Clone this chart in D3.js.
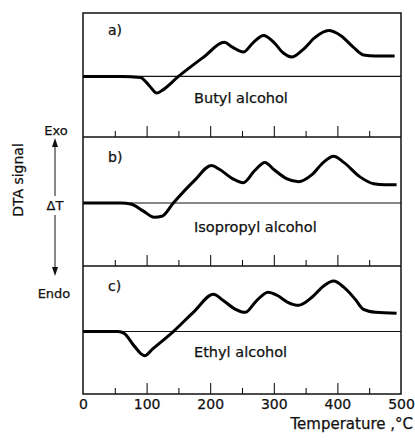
<!DOCTYPE html>
<html>

<head>
	<title>DTA curves</title>
	<script src="https://cdn.jsdelivr.net/npm/d3@7/dist/d3.min.js"></script>
	<style>
		body { margin: 0; background: #fff; }
		text { font-family: "DejaVu Sans", sans-serif; fill: #111; stroke: #111; stroke-width: 0.25; }
	</style>
</head>

<body>
	<svg id="dta" width="415" height="441"></svg>

	<script>
		// values: temperature (°C) and signal (arbitrary units, 0 = baseline)
		var butylT = [0, 60, 90, 105, 116, 125, 150, 190, 222, 235, 252, 268, 284, 300, 315, 328, 345, 365, 386, 405, 425, 441, 460, 490];
		var butylV = [0, 0, -1, -10, -17, -14, 0, 20, 35, 30, 25, 35, 42, 35, 24, 20, 27, 40, 47, 42, 30, 22, 21, 21];

		var isoT = [0, 60, 75, 95, 112, 124, 142, 175, 202, 215, 235, 252, 270, 286, 300, 320, 339, 360, 378, 394, 410, 435, 457, 475, 493];
		var isoV = [0, 0, -1, -8, -14, -13, 0, 22, 37, 33, 24, 20, 32, 40, 33, 24, 21, 28, 40, 46, 40, 26, 19, 18, 18];

		var ethylT = [0, 55, 65, 80, 97, 110, 142, 175, 205, 220, 240, 255, 272, 291, 305, 322, 339, 360, 378, 394, 410, 428, 441, 460, 493];
		var ethylV = [0, 0, -2, -14, -24, -17, 0, 20, 37, 31, 22, 19, 30, 39, 36, 29, 26, 34, 45, 50, 44, 32, 22, 19, 18];

		var panelTags = ['a)', 'b)', 'c)'];
		var sampleNames = ['Butyl alcohol', 'Isopropyl alcohol', 'Ethyl alcohol'];
		var majorTicks = [100, 200, 300, 400];
		var minorTicks = [50, 150, 250, 350, 450];
		var tickLabels = [0, 100, 200, 300, 400, 500];

		var series = [
			{ t: butylT, v: butylV },
			{ t: isoT, v: isoV },
			{ t: ethylT, v: ethylV }
		];

		var svg = d3.select('#dta'),
			left = 83,
			right = 401,
			panelTop = [13, 137, 266],
			panelBottom = [137, 266, 394];

		var x = d3.scaleLinear().domain([0, 500]).range([left, right]);

		series.forEach(function (s, i) {
			var y = d3.scaleLinear().domain([-62, 65]).range([panelBottom[i], panelTop[i]]);
			var g = svg.append('g');

			// baseline
			g.append('line')
				.attr('x1', x(0)).attr('x2', x(500))
				.attr('y1', y(0)).attr('y2', y(0))
				.attr('stroke', '#111')
				.attr('stroke-width', 1.2);

			// ticks pointing up from the bottom of each panel
			g.append('g')
				.attr('transform', 'translate(0,' + panelBottom[i] + ')')
				.call(d3.axisTop(x).tickValues(majorTicks).tickSize(11).tickFormat(''))
				.call(a => a.select('.domain').remove());
			g.append('g')
				.attr('transform', 'translate(0,' + panelBottom[i] + ')')
				.call(d3.axisTop(x).tickValues(minorTicks).tickSize(6).tickFormat(''))
				.call(a => a.select('.domain').remove());

			var pts = s.t.map((t, k) => [t, s.v[k]]);
			var line = d3.line()
				.x(d => x(d[0]))
				.y(d => y(d[1]))
				.curve(d3.curveMonotoneX);

			g.append('path')
				.datum(pts)
				.attr('d', line)
				.attr('fill', 'none')
				.attr('stroke', '#000')
				.attr('stroke-width', 3)
				.attr('stroke-linejoin', 'round');

			g.append('text')
				.attr('x', 108)
				.attr('y', [35, 162, 291][i])
				.attr('font-size', 14)
				.text(panelTags[i]);

			g.append('text')
				.attr('x', 194)
				.attr('y', [103, 232, 357][i])
				.attr('font-size', 14.5)
				.text(sampleNames[i]);
		});

		// frame and panel dividers
		svg.append('rect')
			.attr('x', left).attr('y', panelTop[0])
			.attr('width', right - left).attr('height', panelBottom[2] - panelTop[0])
			.attr('fill', 'none')
			.attr('stroke', '#111')
			.attr('stroke-width', 1.5);
		[137, 266].forEach(function (yy) {
			svg.append('line')
				.attr('x1', left).attr('x2', right)
				.attr('y1', yy).attr('y2', yy)
				.attr('stroke', '#111')
				.attr('stroke-width', 1.5);
		});

		// x tick labels
		svg.append('g')
			.attr('transform', 'translate(0,' + panelBottom[2] + ')')
			.call(d3.axisBottom(x).tickValues(tickLabels).tickSize(0).tickPadding(5))
			.call(a => a.select('.domain').remove())
			.selectAll('text')
			.attr('font-size', 14)
			.attr('font-family', '"DejaVu Sans", sans-serif')
			.attr('fill', '#111');

		svg.append('text')
			.attr('x', 413)
			.attr('y', 429)
			.attr('text-anchor', 'end')
			.attr('font-size', 15)
			.text('Temperature ,°C');

		// y annotation
		svg.append('text')
			.attr('transform', 'translate(23,180) rotate(-90)')
			.attr('text-anchor', 'middle')
			.attr('font-size', 14)
			.text('DTA signal');

		svg.append('text').attr('x', 56).attr('y', 135).attr('text-anchor', 'middle').attr('font-size', 13).text('Exo');
		svg.append('text').attr('x', 55).attr('y', 210).attr('text-anchor', 'middle').attr('font-size', 13).text('ΔT');
		svg.append('text').attr('x', 54).attr('y', 298).attr('text-anchor', 'middle').attr('font-size', 13).text('Endo');

		var ax = 55;
		svg.append('line').attr('x1', ax).attr('x2', ax).attr('y1', 196).attr('y2', 145).attr('stroke', '#111').attr('stroke-width', 1);
		svg.append('line').attr('x1', ax).attr('x2', ax).attr('y1', 215).attr('y2', 268).attr('stroke', '#111').attr('stroke-width', 1);
		svg.append('path').attr('d', d3.line()([[ax, 138], [ax - 3, 147], [ax + 3, 147]]) + 'Z').attr('fill', '#111');
		svg.append('path').attr('d', d3.line()([[ax, 276], [ax - 3, 267], [ax + 3, 267]]) + 'Z').attr('fill', '#111');
	</script>
</body>

</html>
